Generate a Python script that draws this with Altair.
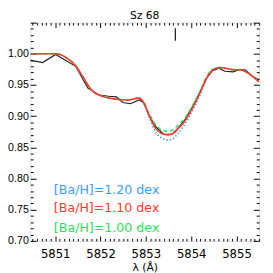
import altair as alt
import pandas as pd

# ---- data ----
model_wave = [5850.45, 5850.80, 5851.03, 5851.24, 5851.45, 5851.62, 5851.80, 5852.08, 5852.28,
              5852.60, 5852.85, 5852.95, 5853.08, 5853.22, 5853.35, 5853.49, 5853.60, 5853.70,
              5853.85, 5854.05, 5854.20, 5854.33, 5854.47, 5854.62, 5854.89, 5855.10, 5855.35, 5855.50]
flux_120 = [1.000, 1.000, 1.000, 0.994, 0.981, 0.962, 0.942, 0.931, 0.928, 0.926, 0.929, 0.921,
            0.897, 0.874, 0.865, 0.862, 0.864, 0.872, 0.886, 0.912, 0.935, 0.958, 0.973, 0.978,
            0.975, 0.974, 0.964, 0.955]
flux_110 = [1.000, 1.000, 1.000, 0.994, 0.981, 0.962, 0.942, 0.931, 0.928, 0.926, 0.929, 0.922,
            0.900, 0.880, 0.872, 0.870, 0.872, 0.879, 0.891, 0.916, 0.938, 0.960, 0.974, 0.978,
            0.975, 0.974, 0.964, 0.955]
flux_100 = [1.000, 1.000, 1.000, 0.994, 0.981, 0.962, 0.942, 0.931, 0.928, 0.926, 0.929, 0.923,
            0.903, 0.886, 0.878, 0.876, 0.878, 0.885, 0.896, 0.920, 0.941, 0.962, 0.975, 0.978,
            0.975, 0.974, 0.964, 0.955]

obs_wave = [5850.45, 5850.72, 5851.01, 5851.45, 5851.72, 5851.97, 5852.18, 5852.35, 5852.49,
            5852.66, 5852.85, 5852.95, 5853.08, 5853.22, 5853.39, 5853.58, 5853.70, 5853.85,
            5854.05, 5854.20, 5854.33, 5854.47, 5854.62, 5854.74, 5854.93, 5855.06, 5855.20,
            5855.35, 5855.50]
obs_flux = [0.990, 0.986, 0.999, 0.980, 0.945, 0.934, 0.932, 0.931, 0.922, 0.920, 0.926, 0.922,
            0.900, 0.883, 0.871, 0.871, 0.880, 0.893, 0.918, 0.940, 0.960, 0.973, 0.977, 0.972,
            0.971, 0.975, 0.974, 0.964, 0.958]

labels = ["[Ba/H]=1.20 dex", "[Ba/H]=1.10 dex", "[Ba/H]=1.00 dex"]
label_colors = ["#3a9cff", "#ff3a28", "#2ee05a"]
label_x = [5850.97, 5850.97, 5850.97]
label_y = [0.781, 0.752, 0.721]

marker_wave = [5853.65]
marker_y = [1.021]
marker_y2 = [1.041]

x_major = [5851, 5852, 5853, 5854, 5855]
y_major = [0.70, 0.75, 0.80, 0.85, 0.90, 0.95, 1.00]
x_ticks = [round(5850.5 + 0.1 * i, 1) for i in range(51)]
y_ticks = [round(0.70 + 0.01 * i, 2) for i in range(36)]

XDOM = [5850.45, 5855.5]
YDOM = [0.70, 1.05]
W, H = 236, 225
FONT = "DejaVu Sans"
YFONT = "Liberation Sans"

xs = alt.Scale(domain=XDOM, nice=False, zero=False)
ys = alt.Scale(domain=YDOM, nice=False, zero=False)

obs_df = pd.DataFrame({"w": obs_wave, "f": obs_flux})
m_df = pd.DataFrame({"w": model_wave, "f120": flux_120, "f110": flux_110, "f100": flux_100})
lab_df = pd.DataFrame({"t": labels, "c": label_colors, "x": label_x, "y": label_y})
mk_df = pd.DataFrame({"w": marker_wave, "y": marker_y, "y2": marker_y2})

x_lab_axis = alt.Axis(values=x_major, format="d", ticks=False, tickSize=0, domain=False, grid=False,
                      labelFont=FONT, labelFontSize=12, labelPadding=8, labelColor="black",
                      title="λ (Å)", titleFont=FONT, titleFontSize=11, titleFontWeight="normal",
                      titlePadding=3, titleColor="black")
y_lab_axis = alt.Axis(values=y_major, format=".2f", ticks=False, tickSize=0, domain=False, grid=False,
                      labelFont=YFONT, labelFontSize=11, labelPadding=2, labelColor="black", title=None)

xtick_size = {"condition": {"test": "abs(datum.value - round(datum.value)) < 1e-6", "value": 5}, "value": 2.5}
ytick_size = {"condition": {"test": "abs(datum.value*20 - round(datum.value*20)) < 1e-6", "value": 6}, "value": 3}


def xt(orient):
    return alt.Axis(orient=orient, offset=-H, values=x_ticks, labels=False, domain=False, grid=False,
                    ticks=True, tickSize=xtick_size, tickColor="black", tickWidth=1, title=None)


def yt(orient):
    return alt.Axis(orient=orient, offset=-W, values=y_ticks, labels=False, domain=False, grid=False,
                    ticks=True, tickSize=ytick_size, tickColor="black", tickWidth=1, title=None)


base_obs = alt.Chart(obs_df)
obs_line = base_obs.mark_line(color="#222222", strokeWidth=1.2, clip=True).encode(
    x=alt.X("w:Q", scale=xs, axis=x_lab_axis),
    y=alt.Y("f:Q", scale=ys, axis=y_lab_axis),
)

mbase = alt.Chart(m_df)
blue = mbase.mark_line(color="#3a9cff", strokeWidth=1.6, strokeDash=[1.5, 2], interpolate="monotone", clip=True).encode(
    x=alt.X("w:Q", scale=xs, axis=xt("top")),
    y=alt.Y("f120:Q", scale=ys, axis=yt("right")),
)
green = mbase.mark_line(color="#2ee05a", strokeWidth=1.6, strokeDash=[4, 3], interpolate="monotone", clip=True).encode(
    x=alt.X("w:Q", scale=xs, axis=xt("bottom")),
    y=alt.Y("f100:Q", scale=ys, axis=yt("left")),
)
red = mbase.mark_line(color="#ff3a28", strokeWidth=1.6, interpolate="monotone", clip=True).encode(
    x=alt.X("w:Q", scale=xs, axis=None),
    y=alt.Y("f110:Q", scale=ys, axis=None),
)

text = alt.Chart(lab_df).mark_text(align="left", baseline="middle", font=FONT, fontSize=13).encode(
    x=alt.X("x:Q", scale=xs, axis=None),
    y=alt.Y("y:Q", scale=ys, axis=None),
    text="t:N",
    color=alt.Color("c:N", scale=None),
)

marker = alt.Chart(mk_df).mark_rule(color="#222222", strokeWidth=1.3).encode(
    x=alt.X("w:Q", scale=xs, axis=None),
    y=alt.Y("y:Q", scale=ys, axis=None),
    y2="y2:Q",
)

chart = alt.layer(obs_line, blue, green, red, text, marker).resolve_axis(
    x="independent", y="independent"
).properties(
    width=W, height=H,
    title=alt.TitleParams("Sz 68", font=FONT, fontSize=11, fontWeight="normal", color="black",
                          anchor="middle", offset=1),
    autosize=alt.AutoSizeParams(type="none"),
    padding={"left": 23, "top": 11, "right": 6, "bottom": 29},
).configure_view(stroke="black", strokeWidth=1).configure(background="white")

chart.save("out.html", embed_options={"renderer": "svg", "actions": False})
